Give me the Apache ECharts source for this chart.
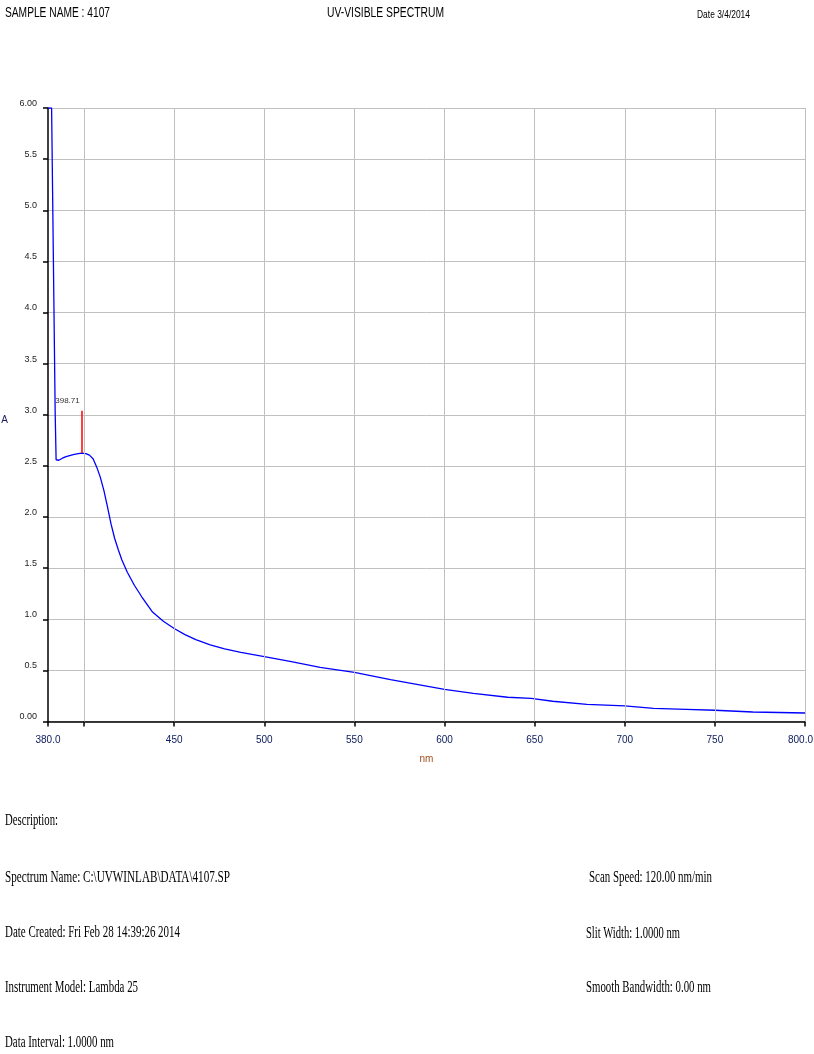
<!DOCTYPE html>
<html>
<head>
<meta charset="utf-8">
<script src="https://cdn.jsdelivr.net/npm/echarts@6/dist/echarts.min.js"></script>
<style>
  html, body { margin: 0; padding: 0; background: #fff; overflow: hidden; }
  #chart { width: 814px; height: 1054px; }
</style>
</head>
<body>
<div id="chart"></div>
<script>
// wavelength (nm) and absorbance
const wavelengths = [380, 381, 382, 383, 384, 384.5, 385.3, 386, 388, 390, 392, 394, 396, 398.71, 401, 403, 405, 407, 409, 411, 413, 415, 417, 419, 421, 424, 428, 432, 438, 444, 450, 456, 462, 470, 478, 487, 500, 515, 531, 550, 570, 590, 600, 616, 635, 648, 660, 679, 700, 716, 734, 750, 771, 800]
const absorbance = [6, 6, 6, 6, 3.0, 2.56, 2.55, 2.555, 2.575, 2.59, 2.60, 2.61, 2.617, 2.625, 2.62, 2.605, 2.57, 2.49, 2.39, 2.26, 2.10, 1.93, 1.79, 1.68, 1.58, 1.46, 1.33, 1.22, 1.07, 0.98, 0.91, 0.85, 0.80, 0.75, 0.71, 0.677, 0.634, 0.585, 0.53, 0.48, 0.41, 0.347, 0.315, 0.276, 0.237, 0.227, 0.198, 0.168, 0.152, 0.129, 0.119, 0.11, 0.093, 0.083]

const xLabelValues = [380, 450, 500, 550, 600, 650, 700, 750, 800]
const xTickValues = [380, 400, 450, 500, 550, 600, 650, 700, 750, 800]
const xGridValues = [400, 450, 500, 550, 600, 650, 700, 750, 800]

const peakNm = 398.71
const peakA = 2.625
const peakMarkTop = 3.04

const headerLines = [
  ['SAMPLE NAME : 4107', 5, 13, 110],
  ['UV-VISIBLE SPECTRUM', 327, 13, 444]
]
const descLines = [
  ['Description:', 5, 821, 58],
  ['Spectrum Name: C:\\UVWINLAB\\DATA\\4107.SP', 5, 878, 230],
  ['Date Created: Fri Feb 28 14:39:26 2014', 5, 933, 180],
  ['Instrument Model: Lambda 25', 5, 988, 138],
  ['Data Interval: 1.0000 nm', 5, 1043, 114],
  ['Scan Speed: 120.00 nm/min', 589, 878, 712],
  ['Slit Width: 1.0000 nm', 586, 934, 680],
  ['Smooth Bandwidth: 0.00 nm', 586, 988, 711]
]

// squeeze text horizontally so it spans the same width as the printout
const measureCtx = document.createElement('canvas').getContext('2d')
function fitText (text, x, y, right, font) {
  measureCtx.font = font
  const w = measureCtx.measureText(text).width
  return {
    type: 'text',
    x: x,
    y: y,
    scaleX: (right - x) / w,
    silent: true,
    style: {
      text: text,
      font: font,
      fill: '#000',
      textAlign: 'left',
      textVerticalAlign: 'middle',
      align: 'left',
      verticalAlign: 'middle'
    }
  }
}

const graphics = []
headerLines.forEach(l => graphics.push(fitText(l[0], l[1], l[2], l[3], '14px "Liberation Sans", Arial, sans-serif')))
graphics.push(fitText('Date 3/4/2014', 697, 15, 750, '11px "Liberation Sans", Arial, sans-serif'))
descLines.forEach(l => graphics.push(fitText(l[0], l[1], l[2], l[3], '16px "Liberation Serif", "Times New Roman", serif')))

const narrow = '"Liberation Sans Narrow", "Liberation Sans", Arial, sans-serif'

const chart = echarts.init(document.getElementById('chart'))
chart.setOption({
  animation: false,
  backgroundColor: '#fff',
  graphic: graphics,
  grid: {
    left: 48,
    right: 9,
    top: 108,
    bottom: 332.5,
    outerBoundsMode: 'none',
    containLabel: false
  },
  xAxis: {
    type: 'value',
    min: 380,
    max: 800,
    interval: 10,
    name: 'nm',
    nameLocation: 'middle',
    nameGap: 33,
    nameTextStyle: { color: '#a05020', fontSize: 10, fontFamily: narrow },
    axisLine: { show: true, onZero: false, lineStyle: { color: '#000', width: 1.5 } },
    axisTick: { show: true, length: 5, customValues: xTickValues, lineStyle: { color: '#000', width: 1.5 } },
    axisLabel: {
      customValues: xLabelValues,
      margin: 14,
      color: '#102060',
      fontSize: 10,
      fontFamily: narrow,
      formatter: v => v === 800 ? '{last|' + v.toFixed(1) + '}' : (v === 380 ? v.toFixed(1) : String(v)),
      rich: {
        last: { color: '#102060', fontSize: 10, fontFamily: narrow, padding: [0, 9, 0, 0] }
      }
    },
    splitLine: { show: false }
  },
  yAxis: {
    type: 'value',
    min: 0,
    max: 6,
    interval: 0.5,
    name: 'A',
    nameLocation: 'middle',
    nameRotate: 0,
    nameGap: 40,
    nameTextStyle: { color: '#1a1a60', fontSize: 10, fontFamily: narrow, verticalAlign: 'top' },
    axisLine: { show: true, lineStyle: { color: '#000', width: 1.5 } },
    axisTick: { show: true, length: 5, lineStyle: { color: '#000', width: 1.5 } },
    axisLabel: {
      margin: 11,
      color: '#222',
      fontSize: 9,
      fontFamily: narrow,
      verticalAlign: 'bottom',
      formatter: v => (v === 0 || v === 6) ? v.toFixed(2) : v.toFixed(1)
    },
    splitLine: { show: true, lineStyle: { color: '#c0c0c0', width: 1 } }
  },
  series: [
    {
      name: 'grid',
      type: 'line',
      data: [],
      z: 1,
      silent: true,
      markLine: {
        silent: true,
        symbol: 'none',
        label: { show: false },
        lineStyle: { color: '#c0c0c0', width: 1, type: 'solid' },
        data: xGridValues.map(v => ({ xAxis: v }))
      }
    },
    {
      name: 'spectrum',
      type: 'line',
      z: 3,
      data: wavelengths.map((w, i) => [w, absorbance[i]]),
      showSymbol: false,
      symbol: 'none',
      smooth: false,
      clip: true,
      lineStyle: { color: '#0000ff', width: 1.3 },
      markLine: {
        silent: true,
        symbol: 'none',
        label: { show: false },
        lineStyle: { color: '#ff0000', width: 1.5, type: 'solid' },
        data: [[{ coord: [peakNm, peakA] }, { coord: [peakNm, peakMarkTop] }]]
      },
      markPoint: {
        silent: true,
        symbol: 'circle',
        symbolSize: 1,
        itemStyle: { color: 'rgba(0,0,0,0)' },
        label: {
          show: true,
          position: 'top',
          distance: 5,
          align: 'right',
          offset: [-2, 0],
          color: '#333',
          fontSize: 8,
          fontFamily: narrow,
          formatter: peakNm.toFixed(2)
        },
        data: [{ coord: [peakNm, peakMarkTop] }]
      }
    }
  ]
})
</script>
</body>
</html>
